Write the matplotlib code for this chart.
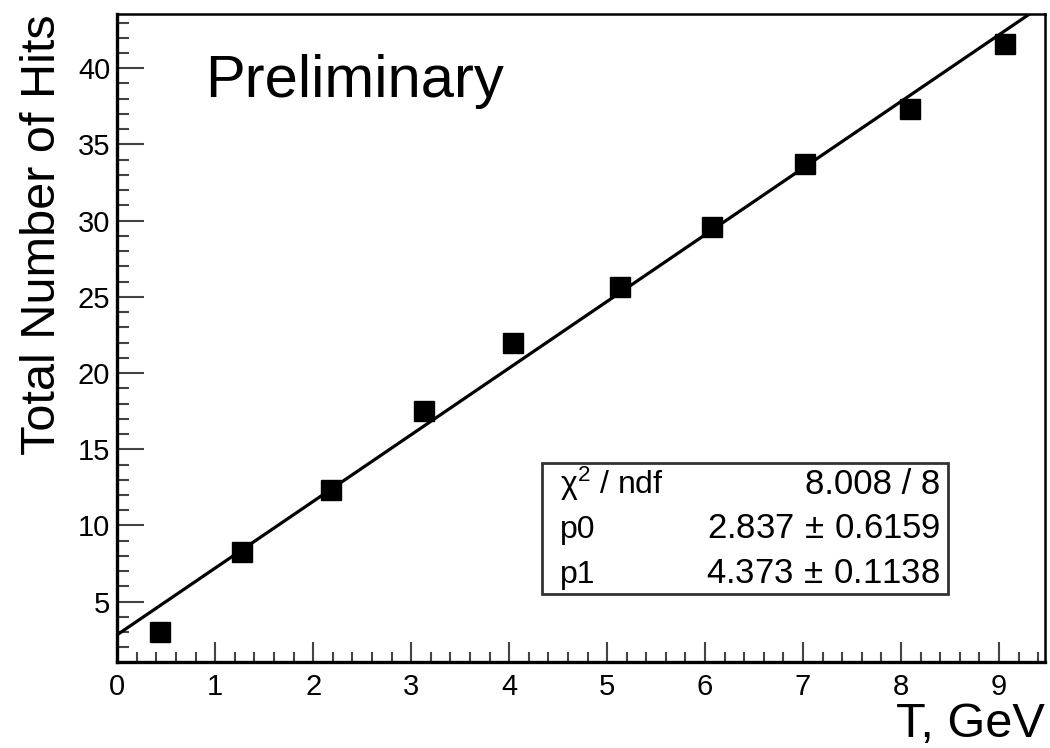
import numpy as np
import matplotlib.pyplot as plt
from matplotlib.patches import Rectangle

plt.rcParams['font.family'] = ['Liberation Sans', 'DejaVu Sans']
plt.rcParams['mathtext.fontset'] = 'custom'
plt.rcParams['mathtext.rm'] = 'Liberation Sans'
plt.rcParams['mathtext.it'] = 'Liberation Sans:italic'

# measured points
energy = [0.44, 1.27, 2.18, 3.13, 4.04, 5.13, 6.07, 7.02, 8.09, 9.06]
hits = [3.0, 8.25, 12.3, 17.5, 22.0, 25.65, 29.6, 33.75, 37.3, 41.6]

# fit result pol1
p0, p0_err = 2.837, 0.6159
p1, p1_err = 4.373, 0.1138
chi2, ndf = 8.008, 8

W, H = 1050, 748
fig = plt.figure(figsize=(W / 100, H / 100), dpi=100)
ax = fig.add_axes([117.3 / W, 1 - 661.7 / H, (1045 - 117.3) / W, (661.7 - 14) / H])

ax.plot(energy, hits, 's', color='black', markersize=14, zorder=3)
xf = np.linspace(0, 9.47, 200)
ax.plot(xf, p0 + p1 * xf, color='black', lw=2.3, zorder=2)

ax.set_xlim(0, 9.47)
ax.set_ylim(1.063, 43.56)
ax.set_xticks(np.arange(0, 10, 1))
ax.set_xticks(np.arange(0, 9.47, 0.2), minor=True)
ax.set_yticks(np.arange(5, 45, 5))
ax.set_yticks(np.arange(2, 44, 1), minor=True)

ax.tick_params(axis='both', which='both', direction='in', labelsize=21, width=1.5, color='#444444')
ax.tick_params(axis='x', which='major', length=14.5, pad=8)
ax.tick_params(axis='x', which='minor', length=7.2)
ax.tick_params(axis='y', which='major', length=19.5, pad=5)
ax.tick_params(axis='y', which='minor', length=8.6)
for s in ['left', 'bottom']:
    ax.spines[s].set_linewidth(2.4)
for s in ['top', 'right']:
    ax.spines[s].set_linewidth(1.8)

# titles
fig.text(20 / W, 1 - 14 / H, 'Total Number of Hits', rotation=90, ha='left', va='top', fontsize=35)
fig.text(1045 / W, 1 - 737 / H, 'T, GeV', ha='right', va='baseline', fontsize=35)
fig.text(205 / W, 1 - 97 / H, 'Preliminary', ha='left', va='baseline', fontsize=43)

# stats box
bx0, by0, bx1, by1 = 542, 463, 948, 594
fig.patches.append(Rectangle((bx0 / W, 1 - by1 / H), (bx1 - bx0) / W, (by1 - by0) / H,
                             transform=fig.transFigure, fill=True, facecolor='white',
                             edgecolor='#333333', lw=2, zorder=5))
rows = [('χ$^2$ / ndf', '%.3f / %d' % (chi2, ndf)),
        ('p0', '%.3f$\\,\\pm\\,$%.4f' % (p0, p0_err)),
        ('p1', '%.3f$\\,\\pm\\,$%.4f' % (p1, p1_err))]
baselines = [494, 538, 583]
for (name, val), yb in zip(rows, baselines):
    fig.text(560 / W, 1 - yb / H, name, ha='left', va='baseline', fontsize=23, zorder=6)
    fig.text(940 / W, 1 - yb / H, val, ha='right', va='baseline', fontsize=25, zorder=6)

fig.savefig('out.png', dpi=100)
